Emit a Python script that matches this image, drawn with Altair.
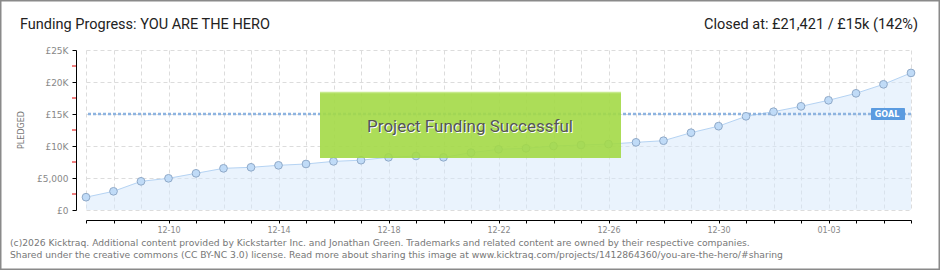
import altair as alt
import pandas as pd

# ---- data ----
dates = ["12-07", "12-08", "12-09", "12-10", "12-11", "12-12", "12-13", "12-14",
         "12-15", "12-16", "12-17", "12-18", "12-19", "12-20", "12-21", "12-22",
         "12-23", "12-24", "12-25", "12-26", "12-27", "12-28", "12-29", "12-30",
         "12-31", "01-01", "01-02", "01-03", "01-04", "01-05", "01-06"]
pledged = [2000, 2920, 4480, 4950, 5730, 6510, 6670, 6980, 7190, 7600, 7780,
           8230, 8440, 8230, 8960, 9480, 9640, 10000, 10160, 10300, 10570,
           10830, 12080, 13100, 14640, 15360, 16200, 17140, 18230, 19640, 21421]
shown_x_labels = ["12-10", "12-14", "12-18", "12-22", "12-26", "12-30", "01-03"]
y_tick_values = [0, 5000, 10000, 15000, 20000, 25000]
y_tick_labels = ["£0", "£5,000", "£10K", "£15K", "£20K", "£25K"]
y_minor_values = [2500, 7500, 12500, 17500, 22500]
goal = 15000

title_text = "Funding Progress: YOU ARE THE HERO"
closed_text = "Closed at:  £21,421 /  £15k (142%)"
footer1 = ("(c)2026 Kicktraq. Additional content provided by Kickstarter Inc. and Jonathan Green. "
           "Trademarks and related content are owned by their respective companies.")
footer2 = ("Shared under the creative commons (CC BY-NC 3.0) license. Read more about sharing this image at "
           "www.kicktraq.com/projects/1412864360/you-are-the-hero/#sharing")

df = pd.DataFrame({"date": dates, "pledged": pledged})
one = pd.DataFrame({"k": [0]})

x_label_expr = "indexof([" + ",".join("'%s'" % s for s in shown_x_labels) + "], datum.label) >= 0 ? datum.label : ''"
y_label_expr = " : ".join(
    "datum.value == %d ? '%s'" % (v, l) for v, l in zip(y_tick_values, y_tick_labels)
) + " : ''"

TICKFONT = "DejaVu Sans"
HEADFONT = "Roboto, sans-serif"

x_axis = alt.Axis(title=None, labelExpr=x_label_expr, labelAngle=0,
                  offset=10, domainColor="#000", tickColor="#000",
                  tickSize=3, labelColor="#888", labelFont=TICKFONT,
                  labelFontSize=8, labelPadding=3, labelOverlap=False,
                  grid=True, gridColor="#dcdcdc", gridDash=[4, 3])
y_axis = alt.Axis(title=None, values=y_tick_values, labelExpr=y_label_expr,
                  offset=10, domainColor="#000", tickColor="#000",
                  tickSize=4, labelPadding=4, labelColor="#888",
                  labelFont=TICKFONT, labelFontSize=9, labelOverlap=False,
                  labelBound=False, labelFlush=False,
                  grid=True, gridColor="#dcdcdc", gridDash=[4, 3])
y_scale = alt.Scale(domain=[0, 25000], nice=False)


def X(field):
    return alt.X(field, sort=dates, scale=alt.Scale(padding=0), axis=x_axis)


def Y(field):
    return alt.Y(field, scale=y_scale, axis=y_axis)


base = alt.Chart(df)
area = base.mark_area(color="#d6e7fb", opacity=0.5).encode(x=X("date:O"), y=Y("pledged:Q"))
line = base.mark_line(color="#b5d3f3", strokeWidth=1).encode(x=X("date:O"), y=Y("pledged:Q"))
pts = base.mark_point(filled=True, fill="#c0dbf7", stroke="#8fa9c8", strokeWidth=1,
                      size=60, opacity=1, shape="circle").encode(x=X("date:O"), y=Y("pledged:Q"))

minor = alt.Chart(pd.DataFrame({"v": y_minor_values})).mark_rule(color="#e00000", strokeWidth=1).encode(
    y=Y("v:Q"), x=alt.value(-14), x2=alt.value(-10))

goal_rule = alt.Chart(pd.DataFrame({"g": [goal]})).mark_rule(
    color="#8db3e0", strokeWidth=2.5, strokeDash=[3, 2]).encode(y=Y("g:Q"))

green = alt.Chart(one).mark_rect(color="#a3d946", opacity=0.9).encode(
    x=alt.value(234), x2=alt.value(535), y=alt.value(42), y2=alt.value(108))
green_top = alt.Chart(one).mark_rule(color="#c6ea8c", strokeWidth=1.5).encode(
    x=alt.value(234), x2=alt.value(535), y=alt.value(42.5))
succ_shadow = alt.Chart(one).mark_text(text="Project Funding Successful", font=HEADFONT,
                                       fontSize=17, color="#ffffff", align="center",
                                       baseline="middle").encode(x=alt.value(385), y=alt.value(78))
succ = alt.Chart(one).mark_text(text="Project Funding Successful", font=HEADFONT,
                                fontSize=17, color="#555555", align="center",
                                baseline="middle").encode(x=alt.value(384), y=alt.value(77))

goal_box = alt.Chart(one).mark_rect(color="#5b9be0", cornerRadius=1).encode(
    x=alt.value(785), x2=alt.value(819), y=alt.value(58), y2=alt.value(70))
goal_txt = alt.Chart(one).mark_text(text="GOAL", font=TICKFONT, fontSize=8, fontWeight="bold",
                                    color="#ffffff", align="center", baseline="middle").encode(
    x=alt.value(801), y=alt.value(64.5))

title = alt.Chart(one).mark_text(text=title_text, font=HEADFONT, fontSize=14.5, color="#222",
                                 align="left", baseline="alphabetic").encode(
    x=alt.value(-66), y=alt.value(-21))
closed = alt.Chart(one).mark_text(text=closed_text, font=HEADFONT, fontSize=14.5, color="#222",
                                  align="right", baseline="alphabetic").encode(
    x=alt.value(832), y=alt.value(-21))
ytitle = alt.Chart(one).mark_text(text="PLEDGED", font=TICKFONT, fontSize=8, color="#777",
                                  angle=270, align="center", baseline="middle").encode(
    x=alt.value(-64), y=alt.value(80))
f1 = alt.Chart(one).mark_text(text=footer1, font=TICKFONT, fontSize=9.2, color="#777",
                              align="left", baseline="alphabetic").encode(
    x=alt.value(-76), y=alt.value(196))
f2 = alt.Chart(one).mark_text(text=footer2, font=TICKFONT, fontSize=9.2, color="#777",
                              align="left", baseline="alphabetic").encode(
    x=alt.value(-76), y=alt.value(208))
frame = alt.Chart(one).mark_rect(fill="#ffffff", fillOpacity=0, stroke="#8a8a8a", strokeWidth=1.5).encode(
    x=alt.value(-85.25), x2=alt.value(853.25), y=alt.value(-49.25), y2=alt.value(219.25))

chart = alt.layer(
    area, line, goal_rule, pts, minor, green, green_top, succ_shadow, succ,
    goal_box, goal_txt, title, closed, ytitle, f1, f2, frame
).properties(
    width=825, height=160,
    padding={"left": 86, "top": 50, "right": 29, "bottom": 60},
    autosize=alt.AutoSizeParams(type="none"),
    background="#ffffff",
).configure_view(strokeWidth=0).configure_axis(labelOverlap=False)

chart.save("out.html", embed_options={"renderer": "svg", "actions": False})
